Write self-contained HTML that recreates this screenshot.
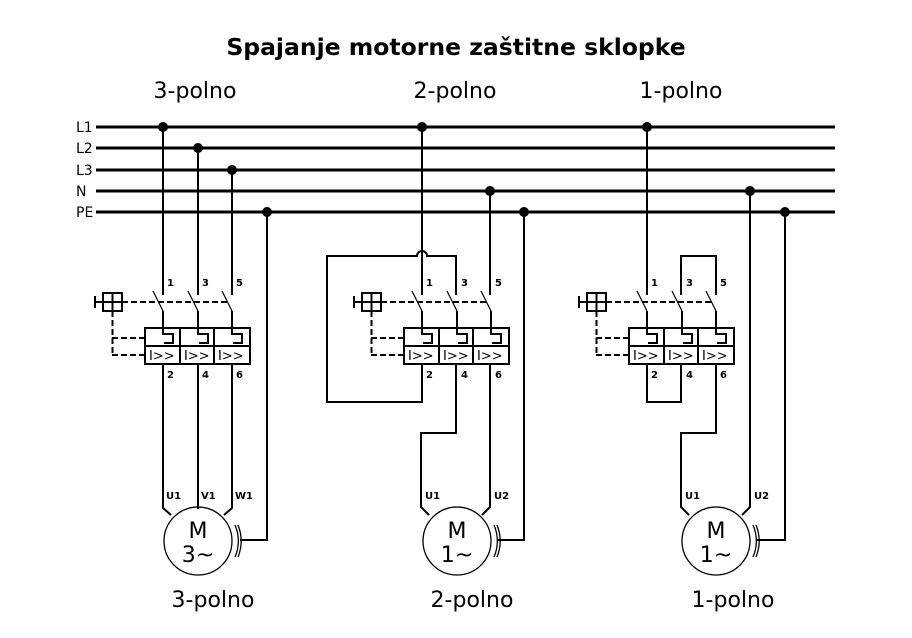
<!DOCTYPE html>
<html><head><meta charset="utf-8"><style>
html,body{margin:0;padding:0;background:#fff;}
svg{display:block;}
text{font-family:"DejaVu Sans","Liberation Sans",sans-serif;fill:#000;}
</style></head><body>
<svg width="912" height="638" viewBox="0 0 912 638" xmlns="http://www.w3.org/2000/svg">
<rect width="912" height="638" fill="#fff"/>
<text x="456" y="55" text-anchor="middle" font-size="23.5" font-weight="bold">Spajanje motorne zaštitne sklopke</text>
<text x="195" y="98" text-anchor="middle" font-size="22">3-polno</text>
<text x="455" y="98" text-anchor="middle" font-size="22">2-polno</text>
<text x="681" y="98" text-anchor="middle" font-size="22">1-polno</text>
<text x="213" y="607" text-anchor="middle" font-size="22">3-polno</text>
<text x="472" y="607" text-anchor="middle" font-size="22">2-polno</text>
<text x="733" y="607" text-anchor="middle" font-size="22">1-polno</text>

<g font-size="14">
<text x="76" y="132">L1</text><text x="76" y="153">L2</text><text x="76" y="175">L3</text>
<text x="76" y="196">N</text><text x="76" y="217">PE</text>
</g>
<g stroke="#000" stroke-width="3">
<line x1="96" y1="127" x2="835" y2="127"/><line x1="96" y1="148" x2="835" y2="148"/>
<line x1="96" y1="170" x2="835" y2="170"/><line x1="96" y1="191" x2="835" y2="191"/>
<line x1="96" y1="212" x2="835" y2="212"/>
</g>
<g fill="#000">
<circle cx="163" cy="127" r="5"/><circle cx="198" cy="148" r="5"/><circle cx="232" cy="170" r="5"/><circle cx="267" cy="212" r="5"/>
<circle cx="422" cy="127" r="5"/><circle cx="490" cy="191" r="5"/><circle cx="524" cy="212" r="5"/>
<circle cx="647" cy="127" r="5"/><circle cx="750" cy="191" r="5"/><circle cx="785" cy="212" r="5"/>
</g>

<defs>
<g id="blk" fill="none" stroke="#000">
 <g stroke-width="2">
  <line x1="163" y1="311" x2="163" y2="328"/><line x1="198" y1="311" x2="198" y2="328"/><line x1="232" y1="311" x2="232" y2="328"/>
  <rect x="145" y="328" width="105" height="36"/>
  <line x1="145" y1="346" x2="250" y2="346"/>
  <line x1="180" y1="328" x2="180" y2="364"/><line x1="214" y1="328" x2="214" y2="364"/>
  <path d="M163 328V334H173V343H164M198 328V334H208V343H199M232 328V334H242V343H233"/>
  <rect x="103" y="293" width="19" height="18"/>
  <line x1="112.5" y1="293" x2="112.5" y2="311"/><line x1="103" y1="302" x2="122" y2="302"/>
  <line x1="95" y1="302" x2="103" y2="302"/><line x1="95" y1="296" x2="95" y2="308"/>
 </g>
 <g stroke-width="1.2">
  <line x1="153" y1="291" x2="163" y2="311"/><line x1="188" y1="291" x2="198" y2="311"/><line x1="222" y1="291" x2="232" y2="311"/>
 </g>
 <g stroke-width="2" stroke-dasharray="6,3">
  <line x1="122" y1="302" x2="228" y2="302"/>
  <line x1="112.5" y1="311" x2="112.5" y2="356"/>
  <line x1="112" y1="338" x2="145" y2="338"/><line x1="112" y1="355" x2="145" y2="355"/>
 </g>
 <g stroke="none" fill="#000" font-family="Liberation Mono,monospace" font-size="13">
  <text x="149" y="360">I&gt;&gt;</text><text x="184" y="360">I&gt;&gt;</text><text x="218" y="360">I&gt;&gt;</text>
 </g>
 <g stroke="none" fill="#000" font-size="10" font-weight="bold">
  <text x="167" y="286">1</text><text x="202" y="286">3</text><text x="236" y="286">5</text>
  <text x="167" y="378">2</text><text x="202" y="378">4</text><text x="236" y="378">6</text>
 </g>
</g>
<g id="mot" fill="none" stroke="#000">
 <circle cx="0" cy="0" r="34" stroke-width="1.3"/>
 <path d="M37 -16A40 40 0 0 1 37 16M40 -16A43 43 0 0 1 40 16" stroke-width="1.3"/>
</g>
</defs>

<use href="#blk"/>
<use href="#blk" transform="translate(259,0)"/>
<use href="#blk" transform="translate(484,0)"/>

<g fill="none" stroke="#000" stroke-width="2">
 <line x1="163" y1="127" x2="163" y2="295"/><line x1="198" y1="148" x2="198" y2="295"/><line x1="232" y1="170" x2="232" y2="295"/>
 <path d="M163 364V508L171 515"/><path d="M198 364V509"/><path d="M232 364V508L224 515"/>
 <path d="M267 212V540H240"/>
 <path d="M422 127V295"/><path d="M490 191V295"/>
 <path d="M456 295V256H427A5 5 0 0 0 417 256H327V402H422V364"/>
 <path d="M456 364V433H421V507L429 515"/>
 <path d="M490 364V507L482 515"/>
 <path d="M524 212V540H497"/>
 <path d="M647 127V295"/>
 <path d="M681 295V256H716V295"/>
 <path d="M647 364V402H681V364"/>
 <path d="M716 364V433H681V507L689 515"/>
 <path d="M750 191V507L742 515"/>
 <path d="M785 212V540H757"/>
</g>
<use href="#mot" transform="translate(198,541)"/>
<use href="#mot" transform="translate(457,541)"/>
<use href="#mot" transform="translate(716,541)"/>
<g font-size="22" text-anchor="middle" fill="#1a1a40">
 <text x="198" y="538">M</text><text x="198" y="562">3~</text>
 <text x="457" y="538">M</text><text x="457" y="562">1~</text>
 <text x="716" y="538">M</text><text x="716" y="562">1~</text>
</g>
<g font-size="10" font-weight="bold">
 <text x="166" y="499">U1</text><text x="201" y="499">V1</text><text x="235" y="499">W1</text>
 <text x="425" y="499">U1</text><text x="494" y="499">U2</text>
 <text x="685" y="499">U1</text><text x="754" y="499">U2</text>
</g>
</svg>
</body></html>
